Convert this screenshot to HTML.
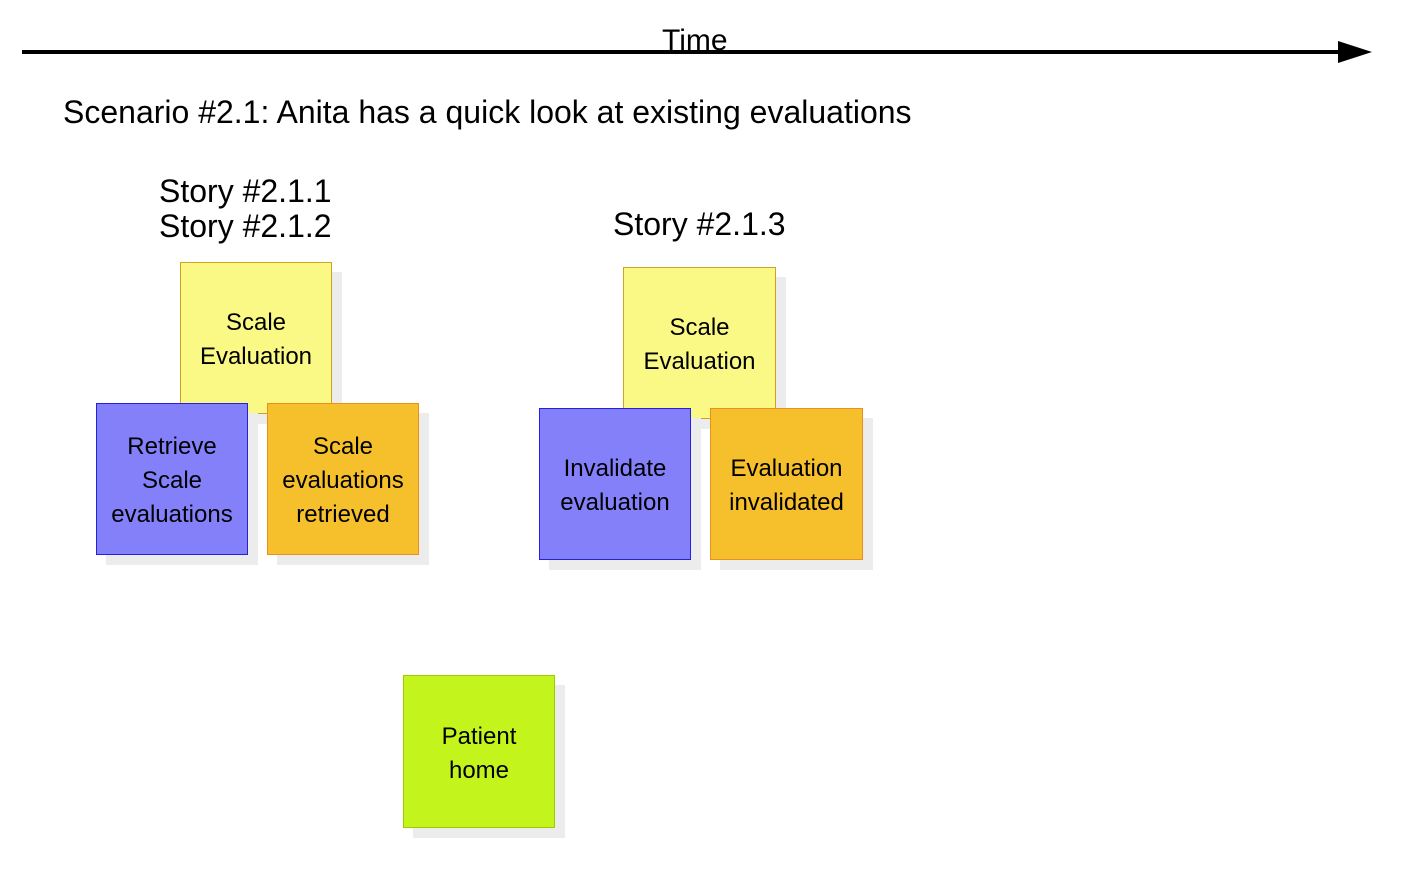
<!DOCTYPE html>
<html><head><style>
body{margin:0;width:1411px;height:882px;background:#fff;position:relative;overflow:hidden;font-family:"Liberation Sans",sans-serif;color:#000}
.t{position:absolute;white-space:nowrap}
.n{position:absolute;width:150px;height:150px;box-sizing:border-box;display:flex;align-items:center;justify-content:center;text-align:center;font-size:24px;line-height:34px;padding-top:4px;box-shadow:10px 10px 0 #ececec}
.y{background:#faf986;border:1px solid #d4a020}
.b{background:#8380fa;border:1px solid #2222dd}
.o{background:#f6c02c;border:1px solid #e89020}
.g{background:#c3f51d;border:1px solid #9acc00}
</style></head><body>
<svg style="position:absolute;left:0;top:0" width="1411" height="882">
<line x1="22" y1="52" x2="1345" y2="52" stroke="#000" stroke-width="4"/>
<polygon points="1338,41 1372,52 1338,63" fill="#000"/>
</svg>
<div class="t" style="left:662px;top:24px;font-size:30px">Time</div>
<div class="t" style="left:63px;top:94px;font-size:32px">Scenario #2.1: Anita has a quick look at existing evaluations</div>
<div class="t" style="left:159px;top:174px;font-size:32px;line-height:35px">Story #2.1.1<br>Story #2.1.2</div>
<div class="t" style="left:613px;top:206px;font-size:32px">Story #2.1.3</div>
<div class="n y" style="left:180px;top:262px;width:152px;height:152px">Scale<br>Evaluation</div>
<div class="n b" style="left:96px;top:403px;width:152px;height:152px">Retrieve<br>Scale<br>evaluations</div>
<div class="n o" style="left:267px;top:403px;width:152px;height:152px">Scale<br>evaluations<br>retrieved</div>
<div class="n y" style="left:623px;top:267px;width:153px;height:152px">Scale<br>Evaluation</div>
<div class="n b" style="left:539px;top:408px;width:152px;height:152px">Invalidate<br>evaluation</div>
<div class="n o" style="left:710px;top:408px;width:153px;height:152px">Evaluation<br>invalidated</div>
<div class="n g" style="left:403px;top:675px;width:152px;height:153px">Patient<br>home</div>
</body></html>
